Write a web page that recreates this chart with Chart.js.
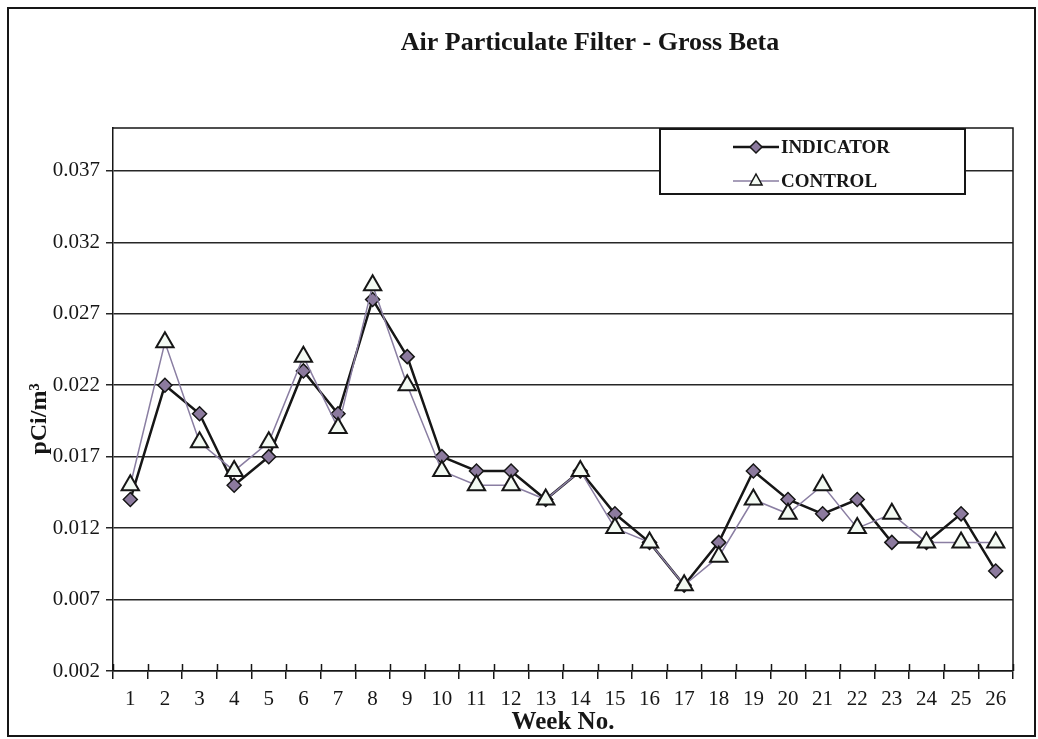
<!DOCTYPE html>
<html>
<head>
<meta charset="utf-8">
<title>Air Particulate Filter - Gross Beta</title>
<script src="https://cdn.jsdelivr.net/npm/chart.js@4/dist/chart.umd.min.js"></script>
<style>
  html, body { margin: 0; padding: 0; background: #fff; }
  canvas { display: block; }
</style>
</head>
<body>
<canvas id="myChart" width="1038" height="739"></canvas>
<script>
"use strict";

const weeks = ["1", "2", "3", "4", "5", "6", "7", "8", "9", "10", "11", "12", "13",
  "14", "15", "16", "17", "18", "19", "20", "21", "22", "23", "24", "25", "26"];

const indicator = [0.014, 0.022, 0.020, 0.015, 0.017, 0.023, 0.020, 0.028, 0.024,
  0.017, 0.016, 0.016, 0.014, 0.016, 0.013, 0.011, 0.008, 0.011, 0.016, 0.014,
  0.013, 0.014, 0.011, 0.011, 0.013, 0.009];

const control = [0.015, 0.025, 0.018, 0.016, 0.018, 0.024, 0.019, 0.029, 0.022,
  0.016, 0.015, 0.015, 0.014, 0.016, 0.012, 0.011, 0.008, 0.010, 0.014, 0.013,
  0.015, 0.012, 0.013, 0.011, 0.011, 0.011];

const yTicks = [0.002, 0.007, 0.012, 0.017, 0.022, 0.027, 0.032, 0.037];

const SERIF = '"Liberation Serif", "Times New Roman", serif';
const INK = "#161616";
const DIAMOND_FILL = "#8c7a9e";
const TRIANGLE_FILL = "#f3faf3";
const CONTROL_LINE = "#8a7ea2";

// frame, plot border, x cross ticks, titles and legend
const decorations = {
  id: "decorations",
  afterDraw(chart) {
    const ctx = chart.ctx;
    const area = chart.chartArea;
    const x = chart.scales.x;

    ctx.save();
    ctx.strokeStyle = INK;

    // plot border (top + right)
    ctx.lineWidth = 1.5;
    ctx.beginPath();
    ctx.moveTo(area.left, area.top);
    ctx.lineTo(area.right, area.top);
    ctx.lineTo(area.right, area.bottom);
    ctx.stroke();

    // inner half of the crossing ticks on the x axis
    ctx.beginPath();
    for (let i = 0; i <= weeks.length; i++) {
      const px = Math.round(x.getPixelForValue(i - 0.5)) + 0.5;
      ctx.moveTo(px, area.bottom - 7);
      ctx.lineTo(px, area.bottom);
    }
    ctx.stroke();

    // outer frame
    ctx.lineWidth = 2;
    ctx.strokeRect(8, 8, 1027, 728);

    // title
    ctx.fillStyle = INK;
    ctx.font = "bold 26px " + SERIF;
    ctx.textAlign = "center";
    ctx.textBaseline = "alphabetic";
    ctx.fillText("Air Particulate Filter - Gross Beta", 590, 50);

    // y axis title
    ctx.save();
    ctx.translate(40, 419);
    ctx.rotate(-Math.PI / 2);
    ctx.font = "bold 24px " + SERIF;
    ctx.textBaseline = "middle";
    ctx.fillText("pCi/m\u00B3", 0, 0);
    ctx.restore();

    // legend
    const lx = 660, ly = 129, lw = 305, lh = 65;
    ctx.fillStyle = "#fff";
    ctx.fillRect(lx, ly, lw, lh);
    ctx.lineWidth = 2;
    ctx.strokeStyle = INK;
    ctx.strokeRect(lx, ly, lw, lh);

    const rows = [
      { label: "INDICATOR", y: 147, line: INK, width: 2.5, shape: "diamond" },
      { label: "CONTROL", y: 181, line: CONTROL_LINE, width: 1.5, shape: "triangle" }
    ];
    for (const row of rows) {
      ctx.strokeStyle = row.line;
      ctx.lineWidth = row.width;
      ctx.beginPath();
      ctx.moveTo(733, row.y);
      ctx.lineTo(779, row.y);
      ctx.stroke();

      ctx.beginPath();
      if (row.shape === "diamond") {
        ctx.moveTo(756, row.y - 6);
        ctx.lineTo(762, row.y);
        ctx.lineTo(756, row.y + 6);
        ctx.lineTo(750, row.y);
        ctx.fillStyle = DIAMOND_FILL;
        ctx.lineWidth = 1.5;
      } else {
        ctx.moveTo(756, row.y - 7);
        ctx.lineTo(762, row.y + 4);
        ctx.lineTo(750, row.y + 4);
        ctx.fillStyle = TRIANGLE_FILL;
        ctx.lineWidth = 1.5;
      }
      ctx.closePath();
      ctx.fill();
      ctx.strokeStyle = INK;
      ctx.stroke();

      ctx.fillStyle = INK;
      ctx.font = "bold 19px " + SERIF;
      ctx.textAlign = "left";
      ctx.textBaseline = "middle";
      ctx.fillText(row.label, 781, row.y + 1);
    }

    ctx.restore();
  }
};

const ctx = document.getElementById("myChart").getContext("2d");

new Chart(ctx, {
  type: "line",
  data: {
    labels: weeks,
    datasets: [
      {
        label: "INDICATOR",
        data: indicator,
        order: 1,
        borderColor: INK,
        borderWidth: 2.5,
        tension: 0,
        fill: false,
        pointStyle: "rectRot",
        pointRadius: 7,
        pointBackgroundColor: DIAMOND_FILL,
        pointBorderColor: INK,
        pointBorderWidth: 1.5
      },
      {
        label: "CONTROL",
        data: control,
        order: 0,
        borderColor: CONTROL_LINE,
        borderWidth: 1.5,
        tension: 0,
        fill: false,
        pointStyle: "triangle",
        pointRadius: 10,
        pointBackgroundColor: TRIANGLE_FILL,
        pointBorderColor: INK,
        pointBorderWidth: 2
      }
    ]
  },
  options: {
    responsive: false,
    animation: false,
    events: [],
    layout: {
      padding: { left: 0, right: 25, top: 128, bottom: 0 }
    },
    plugins: {
      legend: { display: false },
      title: { display: false },
      tooltip: { enabled: false }
    },
    scales: {
      x: {
        type: "category",
        offset: true,
        afterFit(scale) {
          scale.height = 68;
        },
        grid: {
          offset: true,
          drawOnChartArea: false,
          drawTicks: true,
          tickLength: 8,
          color: INK,
          lineWidth: 1.5
        },
        border: { display: true, color: INK, width: 1.5 },
        ticks: {
          color: INK,
          padding: 8,
          maxRotation: 0,
          autoSkip: false,
          font: { family: SERIF, size: 21 }
        },
        title: {
          display: true,
          text: "Week No.",
          color: INK,
          padding: { top: 0, bottom: 1 },
          font: { family: SERIF, size: 25, weight: "bold" }
        }
      },
      y: {
        min: 0.002,
        max: 0.04,
        afterFit(scale) {
          scale.width = 113;
        },
        afterBuildTicks(scale) {
          scale.ticks = yTicks.map((v) => ({ value: v }));
        },
        grid: {
          drawTicks: true,
          tickLength: 7,
          color: "#262626",
          lineWidth: 1.5
        },
        border: { display: true, color: INK, width: 1.5 },
        ticks: {
          color: INK,
          padding: 6,
          font: { family: SERIF, size: 21 },
          callback: (v) => v.toFixed(3)
        }
      }
    }
  },
  plugins: [decorations]
});
</script>
</body>
</html>
